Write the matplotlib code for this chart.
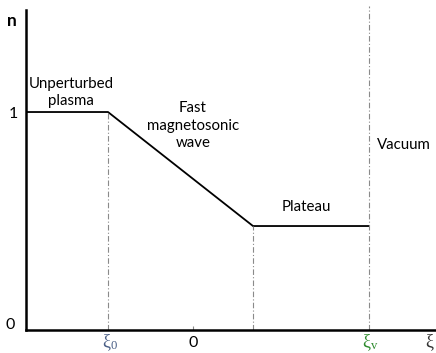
import matplotlib
matplotlib.use("Agg")
from matplotlib import pyplot as plt

plt.rcParams['font.family'] = ['Lato', 'DejaVu Sans']
plt.rcParams['mathtext.fontset'] = 'custom'
plt.rcParams['mathtext.rm'] = 'Liberation Serif'
plt.rcParams['mathtext.it'] = 'Liberation Serif'

# density profile n(xi), x in arbitrary units with the origin at 0
xi_left = -167
xi_0 = -85
xi_p = 60
xi_v = 176
xi_right = 243

xi_profile = [xi_left, xi_0, xi_p, xi_v]
n_profile = [1.0, 1.0, 0.477, 0.477]

n_top = 1.468

region_labels = ["Unperturbed\nplasma", "Fast\nmagnetosonic\nwave", "Plateau", "Vacuum"]
region_x = [-122, 0, 113, 211]
region_y = [1.09, 0.936, 0.565, 0.85]

fig = plt.figure(figsize=(4.36, 3.53), dpi=100)
ax = fig.add_axes([26 / 436, 23 / 353, 410 / 436, 320 / 353])

ax.plot(xi_profile, n_profile, color='black', lw=1.3)

# boundaries between regions
dash = dict(color='#8a8a8a', lw=0.8, ls=(0, (5, 2, 1, 2)))
ax.plot([xi_0, xi_0], [0, n_profile[1]], **dash)
ax.plot([xi_p, xi_p], [0, n_profile[2]], **dash)
ax.plot([xi_v, xi_v], [0, n_top + 0.02], clip_on=False, **dash)

for label, x, y in zip(region_labels, region_x, region_y):
    ax.text(x, y, label, ha='center', va='center', fontsize=10.8, linespacing=1.32)

ax.set_xlim(xi_left, xi_right)
ax.set_ylim(0, n_top)
for side in ['top', 'right']:
    ax.spines[side].set_visible(False)
for side in ['left', 'bottom']:
    ax.spines[side].set_linewidth(1.8)

ax.set_xticks([0])
ax.set_xticklabels(['0'], fontsize=11.5)
ax.tick_params(axis='x', direction='in', length=3, width=0.8, color='#888888', pad=4)
ax.set_yticks([1])
ax.set_yticklabels(['1'], fontsize=11.5)
ax.tick_params(axis='y', length=0, pad=6)

ax.text(-0.028, 0.015, '0', transform=ax.transAxes, ha='right', va='center', fontsize=11.5)
ax.text(-0.035, 0.965, 'n', transform=ax.transAxes, ha='center', va='center',
        fontsize=12.5, fontweight='bold')

ax.text(xi_0 + 2, -0.06, r'$\xi_0$', color='#4a5f86', ha='center', va='center', fontsize=13)
ax.text(xi_v + 1, -0.06, r'$\xi_v$', color='#2e8b2e', ha='center', va='center', fontsize=13)
ax.text(xi_right - 6, -0.06, r'$\xi$', color='#333333', ha='center', va='center', fontsize=13,
        clip_on=False)

fig.savefig('out.png', dpi=100)
